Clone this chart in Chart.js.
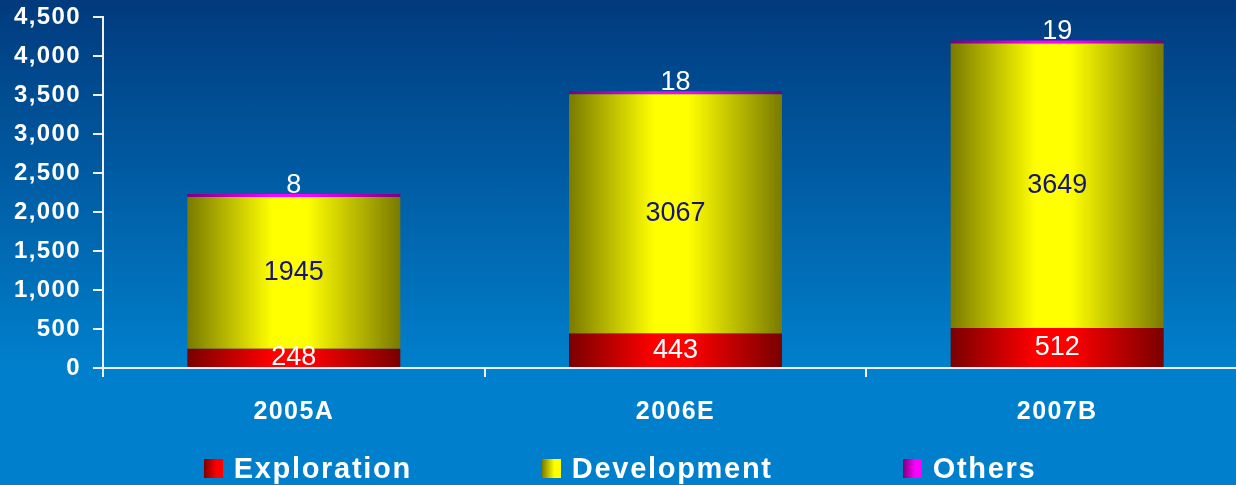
<!DOCTYPE html>
<html>
<head>
<meta charset="utf-8">
<script src="https://cdn.jsdelivr.net/npm/chart.js@4/dist/chart.umd.min.js"></script>
<style>
  html, body { margin: 0; padding: 0; overflow: hidden; }
  #wrap {
    position: relative;
    width: 1236px;
    height: 485px;
    overflow: hidden;
    background: linear-gradient(to bottom, #013a7d 0px, #0080cc 368px, #0080cc 485px);
    font-family: "Liberation Sans", Arial, sans-serif;
  }
  #chart { position: absolute; left: 0; top: 0; }
  #legend {
    position: absolute;
    left: 0;
    top: 454px;
    width: 1236px;
    box-sizing: border-box;
    padding-left: 4px;
    display: flex;
    justify-content: center;
    gap: 130px;
  }
  .item { display: flex; align-items: center; }
  .swatch { width: 19px; height: 19px; margin-right: 11px; }
  .name {
    color: #ffffff;
    font-weight: bold;
    font-size: 29px;
    line-height: 29px;
    letter-spacing: 1.7px;
    white-space: nowrap;
  }
</style>
</head>
<body>
<div id="wrap">
  <canvas id="chart" width="1248" height="485"></canvas>
  <div id="legend"></div>
</div>
<script>
// Capital expenditure by year, stacked by category
const categories = ['2005A', '2006E', '2007B'];
const seriesNames = ['Exploration', 'Development', 'Others'];
const exploration = [248, 443, 512];
const development = [1945, 3067, 3649];
const others = [8, 18, 19];
const yMin = 0;
const yMax = 4500;
const yStep = 500;

const FONT = '"Liberation Sans", Arial, sans-serif';
const AXIS = '#eef2f8';
const BAR_PCT = 0.558;

// shading per series: edge colour, centre colour, value label colour
const shades = [
  { dark: '#7a0000', bright: '#ff0000', text: '#ffffff' },
  { dark: '#7a7a00', bright: '#ffff00', text: '#14147a' },
  { dark: '#7a007a', bright: '#ff00ff', text: '#ffffff' }
];

// cylinder-like horizontal shading for each bar
function barShade(s) {
  return (c) => {
    const chart = c.chart;
    const xs = chart.scales.x;
    if (!chart.chartArea || !xs || c.type !== 'data') return s.bright;
    const cx = xs.getPixelForValue(c.dataIndex);
    const half = xs.width / categories.length * BAR_PCT / 2;
    const g = chart.ctx.createLinearGradient(cx - half, 0, cx + half, 0);
    g.addColorStop(0, s.dark);
    g.addColorStop(0.4, s.bright);
    g.addColorStop(0.56, s.bright);
    g.addColorStop(1, s.dark);
    return g;
  };
}

// bold axis text is drawn slightly letter-spaced
const spacedText = {
  id: 'spacedText',
  beforeDraw(chart) { chart.ctx.letterSpacing = '1.4px'; }
};

// value labels: inside the lower two segments, above the top segment
const valueLabels = {
  id: 'valueLabels',
  afterDatasetsDraw(chart) {
    const ctx = chart.ctx;
    ctx.save();
    ctx.letterSpacing = '0px';
    ctx.font = '27px ' + FONT;
    ctx.textAlign = 'center';
    chart.data.datasets.forEach((ds, i) => {
      const meta = chart.getDatasetMeta(i);
      meta.data.forEach((bar, j) => {
        const p = bar.getProps(['x', 'y', 'base'], true);
        ctx.fillStyle = shades[i].text;
        const txt = String(ds.data[j]);
        if (i === 2) {
          ctx.textBaseline = 'alphabetic';
          ctx.fillText(txt, p.x, p.y - 1);
        } else {
          ctx.textBaseline = 'middle';
          ctx.fillText(txt, p.x, (p.y + p.base) / 2);
        }
      });
    });
    ctx.restore();
  }
};

// legend rendered as HTML under the plot
const htmlLegend = {
  id: 'htmlLegend',
  afterUpdate(chart) {
    const box = document.getElementById('legend');
    box.innerHTML = '';
    const items = Chart.defaults.plugins.legend.labels.generateLabels(chart);
    items.forEach((it) => {
      const s = shades[it.datasetIndex];
      const el = document.createElement('div');
      el.className = 'item';
      const sw = document.createElement('span');
      sw.className = 'swatch';
      sw.style.background = 'linear-gradient(to right, ' + s.dark + ', ' + s.bright + ' 65%, ' + s.bright + ')';
      const nm = document.createElement('span');
      nm.className = 'name';
      nm.textContent = it.text;
      el.appendChild(sw);
      el.appendChild(nm);
      box.appendChild(el);
    });
  }
};

const seriesData = [exploration, development, others];

new Chart(document.getElementById('chart'), {
  type: 'bar',
  data: {
    labels: categories,
    datasets: seriesData.map((d, i) => ({
      label: seriesNames[i],
      data: d,
      backgroundColor: barShade(shades[i]),
      borderWidth: 0,
      categoryPercentage: 1,
      barPercentage: BAR_PCT,
      minBarLength: i === 2 ? 3 : 0
    }))
  },
  options: {
    responsive: false,
    devicePixelRatio: 1,
    animation: false,
    layout: { padding: { top: 17, right: 0, bottom: 0, left: 0 } },
    plugins: {
      legend: { display: false },
      tooltip: { enabled: false }
    },
    scales: {
      x: {
        stacked: true,
        grid: { drawOnChartArea: false, tickLength: 9, color: AXIS, lineWidth: 2, offset: true },
        border: { color: AXIS, width: 2 },
        ticks: { color: '#ffffff', font: { family: FONT, size: 25, weight: 'bold' }, padding: 20, maxRotation: 0 },
        afterFit(s) { s.height = 117; }
      },
      y: {
        stacked: true,
        min: yMin,
        max: yMax,
        grid: { drawOnChartArea: false, tickLength: 10, color: AXIS, lineWidth: 2 },
        border: { color: AXIS, width: 2 },
        ticks: {
          stepSize: yStep,
          color: '#ffffff',
          font: { family: FONT, size: 24, weight: 'bold' },
          padding: 12,
          callback: (v) => Number(v).toLocaleString('en-US')
        },
        afterFit(s) {
          s.width = 103;
          s.paddingTop = 0;
          s.paddingBottom = 0;
        }
      }
    }
  },
  plugins: [spacedText, valueLabels, htmlLegend]
});
</script>
</body>
</html>
